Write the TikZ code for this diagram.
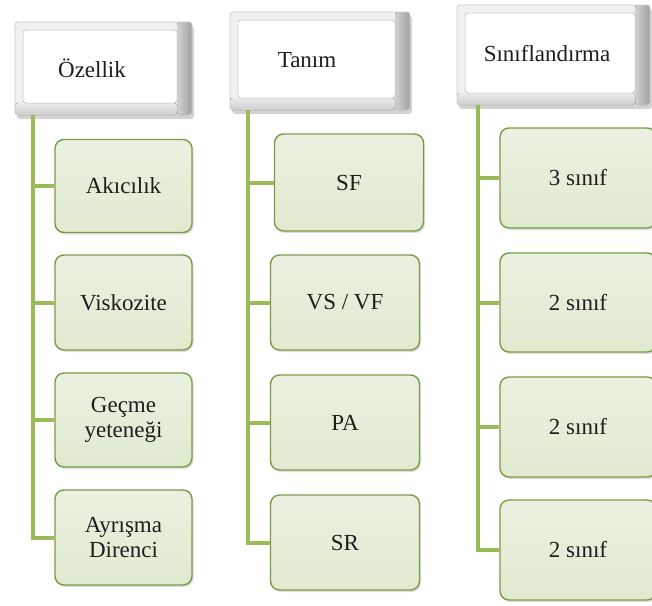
\documentclass[tikz,border=0pt]{standalone}
\usepackage{fontspec}
\setmainfont{Liberation Serif}
\newfontfamily\timesx{Liberation Serif}
\usetikzlibrary{shadows}
\definecolor{linegreen}{HTML}{9BBB59}
\definecolor{boxborder}{HTML}{7A9B46}
\definecolor{boxtop}{HTML}{EBF1E1}
\definecolor{boxbot}{HTML}{E0EAD0}
\definecolor{txt}{HTML}{1E1E1E}
\tikzset{
  lbl/.style={text=txt, font=\timesx\fontsize{23}{25}\selectfont, align=center},
  header/.style={rectangle, rounded corners=3pt, draw=gray!40, line width=0.8pt,
    inner sep=0pt,
    drop shadow={opacity=0.35, shadow xshift=2pt, shadow yshift=-4pt},
    path picture={
      \fill[gray!12]
        (path picture bounding box.south west) rectangle (path picture bounding box.north east);
      \fill[left color=gray!35, right color=gray!75]
        ([xshift=-15pt]path picture bounding box.north east) rectangle (path picture bounding box.south east);
      \fill[top color=gray!15, bottom color=gray!40]
        ([yshift=12pt]path picture bounding box.south west) rectangle ([xshift=-15pt]path picture bounding box.south east);
      \fill[white, draw=gray!55, line width=0.5pt]
        ([shift={(8pt,-8pt)}]path picture bounding box.north west) rectangle
        ([shift={(-15pt,12pt)}]path picture bounding box.south east);
    }},
  item/.style={rectangle, rounded corners=9pt, draw=boxborder, line width=1.4pt,
    top color=boxtop, bottom color=boxbot, lbl, inner sep=0pt,
    drop shadow={opacity=0.25, shadow xshift=1.5pt, shadow yshift=-2pt}},
  conn/.style={draw=linegreen, line width=4pt}
}
\begin{document}
\begin{tikzpicture}[x=1pt,y=-1pt]
\useasboundingbox (0,0) rectangle (652,605);

% column 1
\node[header, minimum width=177pt, minimum height=93pt] (h1) at (103.5,68.5) {};
\node[lbl] (h1t) at (92,68) {Özellik};
\coordinate (t1) at (33,115);
\node[item, minimum width=137pt, minimum height=93pt] (a1) at (123.5,186) {Akıcılık};
\node[item, minimum width=137pt, minimum height=95pt] (a2) at (123.5,302.5) {Viskozite};
\node[item, minimum width=137pt, minimum height=94pt] (a3) at (123.5,420) {Geçme\\yeteneği};
\node[item, minimum width=137pt, minimum height=95pt] (a4) at (123.5,537.5) {Ayrışma\\Direnci};

% column 2
\node[header, minimum width=180pt, minimum height=98pt] (h2) at (320,61) {};
\node[lbl] (h2t) at (307,60) {Tanım};
\coordinate (t2) at (248,110);
\node[item, minimum width=149pt, minimum height=97pt] (b1) at (349,182.5) {SF};
\node[item, minimum width=149pt, minimum height=95pt] (b2) at (345,302.5) {VS / VF};
\node[item, minimum width=149pt, minimum height=95pt] (b3) at (345,422.5) {PA};
\node[item, minimum width=149pt, minimum height=95pt] (b4) at (345,542.5) {SR};

% column 3
\node[header, minimum width=193pt, minimum height=100pt] (h3) at (553.5,55) {};
\node[lbl] (h3t) at (547,54) {Sınıflandırma};
\coordinate (t3) at (478,105);
\node[item, minimum width=156pt, minimum height=100pt] (c1) at (578,178) {3 sınıf};
\node[item, minimum width=156pt, minimum height=99pt] (c2) at (578,302.5) {2 sınıf};
\node[item, minimum width=156pt, minimum height=100pt] (c3) at (578,427) {2 sınıf};
\node[item, minimum width=156pt, minimum height=100pt] (c4) at (578,550) {2 sınıf};

% connectors
\draw[conn] (t1) |- (a4.west);
\foreach \n in {a1,a2,a3} \draw[conn] (t1 |- \n.west) -- (\n.west);
\draw[conn] (t2) |- (b4.west);
\foreach \n in {b1,b2,b3} \draw[conn] (t2 |- \n.west) -- (\n.west);
\draw[conn] (t3) |- (c4.west);
\foreach \n in {c1,c2,c3} \draw[conn] (t3 |- \n.west) -- (\n.west);
\end{tikzpicture}
\end{document}
